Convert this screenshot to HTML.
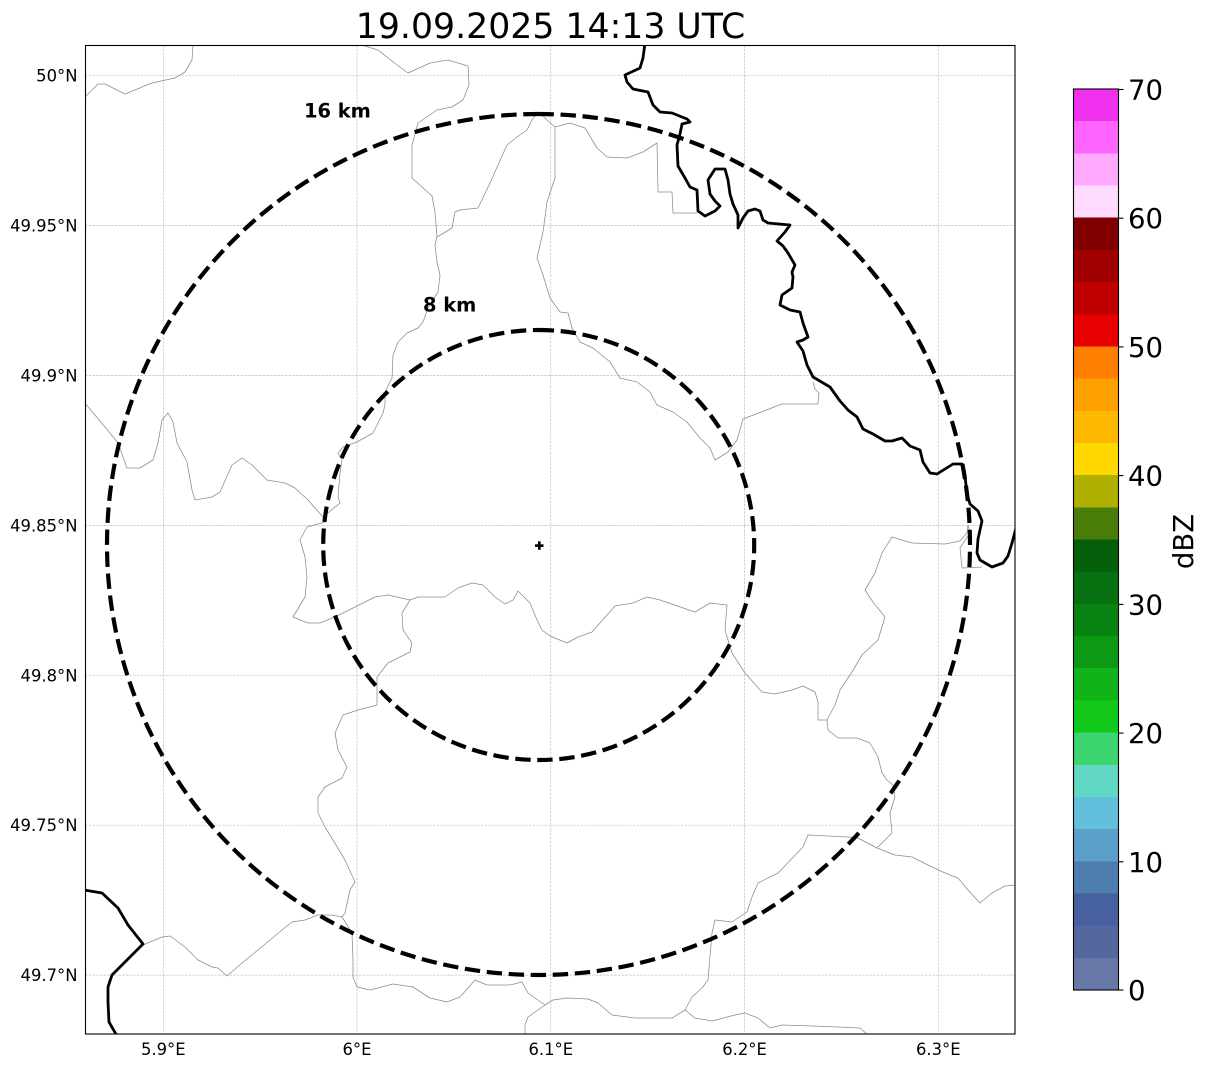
<!DOCTYPE html>
<html>
<head>
<meta charset="utf-8">
<style>
  html,body{margin:0;padding:0;background:#fff;}
  svg{display:block;}
  text{font-family:"DejaVu Sans","Liberation Sans",sans-serif;fill:#000;}
</style>
</head>
<body>
<svg width="1207" height="1069" viewBox="0 0 1207 1069" xmlns="http://www.w3.org/2000/svg">
  <defs>
    <clipPath id="ax"><rect x="85.5" y="45.5" width="929.5" height="988.5"/></clipPath>
  </defs>
  <rect x="0" y="0" width="1207" height="1069" fill="#fff"/>

  <!-- Title -->
  <text x="550.5" y="38" font-size="34.7" text-anchor="middle">19.09.2025 14:13 UTC</text>

  <g clip-path="url(#ax)">
    <!-- grid -->
    <g stroke="#c0c0c0" stroke-width="0.7" stroke-dasharray="2.6 1.1" fill="none">
      <line x1="163.3" y1="45" x2="163.3" y2="1034"/>
      <line x1="357" y1="45" x2="357" y2="1034"/>
      <line x1="550.8" y1="45" x2="550.8" y2="1034"/>
      <line x1="744.5" y1="45" x2="744.5" y2="1034"/>
      <line x1="938.3" y1="45" x2="938.3" y2="1034"/>
      <line x1="85" y1="75.7" x2="1015" y2="75.7"/>
      <line x1="85" y1="225.6" x2="1015" y2="225.6"/>
      <line x1="85" y1="375.5" x2="1015" y2="375.5"/>
      <line x1="85" y1="525.4" x2="1015" y2="525.4"/>
      <line x1="85" y1="675.3" x2="1015" y2="675.3"/>
      <line x1="85" y1="825.2" x2="1015" y2="825.2"/>
      <line x1="85" y1="975.1" x2="1015" y2="975.1"/>
    </g>

    <!-- thin admin borders -->
    <g stroke="#8a8a8a" stroke-width="0.75" fill="none" stroke-linejoin="round">
      <polyline points="85,97 98,84 105,84 125,94 152,83 175,78 185,72 192,60 193,44"/>
      <polyline points="358,44 378,50 397,65 408,73 430,63 448,60 468,66 469,85 463,100 452,107 437,110 418,123 412,145 412,178 432,196 435,212 437,237 435,245 437,262 440,275 438,292 428,308 423,322 418,328 407,333 398,342 393,355 392,378 385,392 385,405 383,413 373,433 357,442 343,447 338,453 342,460 340,473 338,497 340,503 323,517"/>
      <polyline points="437,237 452,228 455,212 460,210 478,208 490,183 507,145 517,137 527,130 533,118 540,113 547,120 555,127 570,123 585,128 597,148 607,157 627,158 643,152 657,143 658,192 672,192 673,213 697,213"/>
      <polyline points="555,127 555,178 547,202 543,232 537,258 543,275 550,298 560,312 568,313 572,328 580,342 593,348 610,362 620,378 637,382 650,392 657,405 673,412 687,422 700,438 710,448 715,460 728,452 737,440 743,419 782,404 818,404 819,393 815,389 813,382"/>
      <polyline points="84,402 105,427 118,443 127,468 140,468 153,460 158,443 162,420 168,413 173,422 177,443 187,462 192,490 195,500 212,497 220,492 232,465 242,458 252,465 267,480 285,483 295,488 308,500 323,517 325,522 307,527 300,540 305,557 307,577 305,597 293,617 308,623 320,623 335,617 355,607 375,597 388,595 410,600 418,597 430,597 445,597 458,588 472,583 483,585 495,597 505,604 513,600 518,591 530,603 537,620 542,630 550,636 567,643 578,637 592,632 607,615 615,606 633,603 647,597 660,600 695,612 710,603 727,605 725,630 732,653 745,673 762,692 775,694 792,690 803,686 815,692 818,702 818,720 827,720 828,730 838,738 857,738 870,743 878,757 882,773 887,780 893,785 895,797 890,813 892,833 877,848"/>
      <polyline points="410,600 402,613 403,630 412,643 410,652 388,663 377,677 377,705 358,710 343,715 335,733 338,750 347,767 342,778 325,787 318,797 318,813 325,827 333,840 345,860 355,882 350,890 345,913 342,917 332,915 318,915 305,920 292,922 282,930 258,950 242,963 227,976 218,968 212,967 198,960 185,947 170,936 162,937 143,945"/>
      <polyline points="342,917 352,933 353,960 353,977 357,987 370,990 393,984 413,987 430,998 447,1002 460,997 475,980 487,985 510,985 522,982 528,993 545,1005 553,1000 567,998 588,999 598,1003 612,1015 635,1018 672,1018 685,1010 692,997 702,988 708,980 712,933 715,920 732,922 747,912 752,897 758,883 778,873 803,847 808,835 848,837 858,838 877,848 895,855 912,857 928,865 945,873 958,878 968,890 980,903 992,893 1005,886 1016,885"/>
      <polyline points="545,1005 528,1017 525,1025 525,1035"/>
      <polyline points="685,1010 695,1018 712,1021 735,1015 745,1013 758,1018 770,1028 782,1025 812,1026 838,1027 860,1028 868,1035"/>
      <polyline points="827,720 835,705 840,690 852,672 862,655 878,640 885,617 873,602 865,590 875,573 882,553 892,537 912,543 945,544 960,541 967,533 968,525 970,533 960,548 962,568 982,567"/>
    </g>

    <!-- thick national borders -->
    <g stroke="#000" stroke-width="2.8" fill="none" stroke-linejoin="round" stroke-linecap="round">
      <polyline points="645,43 643,58 640,68 625,75 627,82 633,89 648,92 653,105 660,112 672,113 687,119 690,122 682,124 680,134 677,145 678,166 685,178 690,187 697,190 698,211 705,216 715,211 720,206 715,201 710,194 708,180 715,169 725,169 728,180 730,194 733,204 738,215 738,228 743,218 748,211 755,209 760,211 763,220 768,223 790,225 785,232 777,241 783,246 788,253 795,265 792,272 793,277 792,288 782,295 780,305 790,310 800,312 803,323 808,337 803,340 797,342 803,351 807,365 813,377 830,387 840,401 848,410 857,417 863,429 873,434 885,441 892,441 902,438 910,446 920,450 923,462 930,473 937,474 953,464 962,464 965,476 967,494 970,504 978,511 982,521 978,539 977,553 980,560 992,567 1003,563 1008,556 1012,543 1016,528"/>
      <polyline points="84,890 102,893 118,908 128,925 143,944 125,962 112,975 108,987 108,1002 109,1022 117,1036"/>
    </g>

    <!-- range rings -->
    <g stroke="#000" stroke-width="4.17" fill="none" stroke-dasharray="15.4 6.67">
      <path d="M538.5,114 A431.5,430.5 0 0 1 538.5,975 A431.5,430.5 0 0 1 538.5,114"/>
      <path d="M538.7,330 A215.5,215 0 0 1 538.7,760 A215.5,215 0 0 1 538.7,330"/>
    </g>

    <!-- radar marker -->
    <rect x="535" y="544.3" width="8.5" height="2.6" fill="#000"/>
    <rect x="538" y="541.3" width="2.6" height="8.5" fill="#000"/>

    <!-- ring labels -->
    <text x="304" y="117.5" font-size="19.4" font-weight="bold">16 km</text>
    <text x="423" y="311.5" font-size="19.4" font-weight="bold">8 km</text>
  </g>

  <!-- axes frame -->
  <rect x="85.5" y="45.5" width="929.5" height="988.5" fill="none" stroke="#000" stroke-width="1.1"/>

  <!-- lat labels -->
  <g font-size="16.4" text-anchor="end">
    <text x="77.5" y="81.5">50°N</text>
    <text x="77.5" y="231.5">49.95°N</text>
    <text x="77.5" y="381.5">49.9°N</text>
    <text x="77.5" y="531.5">49.85°N</text>
    <text x="77.5" y="681.3">49.8°N</text>
    <text x="77.5" y="831.2">49.75°N</text>
    <text x="77.5" y="981.1">49.7°N</text>
  </g>
  <!-- lon labels -->
  <g font-size="16.4" text-anchor="middle">
    <text x="163.3" y="1055">5.9°E</text>
    <text x="357" y="1055">6°E</text>
    <text x="550.8" y="1055">6.1°E</text>
    <text x="744.5" y="1055">6.2°E</text>
    <text x="938.3" y="1055">6.3°E</text>
  </g>

  <!-- colorbar -->
  <g shape-rendering="crispEdges">
    <rect x="1073.5" y="89.0" width="45" height="32.6" fill="#f032f0"/>
    <rect x="1073.5" y="121.2" width="45" height="32.6" fill="#ff66ff"/>
    <rect x="1073.5" y="153.4" width="45" height="32.6" fill="#ffaaff"/>
    <rect x="1073.5" y="185.5" width="45" height="32.6" fill="#ffdcff"/>
    <rect x="1073.5" y="217.7" width="45" height="32.6" fill="#800000"/>
    <rect x="1073.5" y="249.9" width="45" height="32.6" fill="#a00000"/>
    <rect x="1073.5" y="282.1" width="45" height="32.6" fill="#c00000"/>
    <rect x="1073.5" y="314.3" width="45" height="32.6" fill="#e60000"/>
    <rect x="1073.5" y="346.4" width="45" height="32.6" fill="#ff7f00"/>
    <rect x="1073.5" y="378.6" width="45" height="32.6" fill="#ff9f00"/>
    <rect x="1073.5" y="410.8" width="45" height="32.6" fill="#ffb800"/>
    <rect x="1073.5" y="443.0" width="45" height="32.6" fill="#ffd800"/>
    <rect x="1073.5" y="475.1" width="45" height="32.6" fill="#b0b000"/>
    <rect x="1073.5" y="507.3" width="45" height="32.6" fill="#4a7d08"/>
    <rect x="1073.5" y="539.5" width="45" height="32.6" fill="#055e0a"/>
    <rect x="1073.5" y="571.7" width="45" height="32.6" fill="#077010"/>
    <rect x="1073.5" y="603.9" width="45" height="32.6" fill="#098214"/>
    <rect x="1073.5" y="636.0" width="45" height="32.6" fill="#0c9a14"/>
    <rect x="1073.5" y="668.2" width="45" height="32.6" fill="#10b418"/>
    <rect x="1073.5" y="700.4" width="45" height="32.6" fill="#12c81a"/>
    <rect x="1073.5" y="732.6" width="45" height="32.6" fill="#3cd46e"/>
    <rect x="1073.5" y="764.8" width="45" height="32.6" fill="#60d8c4"/>
    <rect x="1073.5" y="796.9" width="45" height="32.6" fill="#62c0dc"/>
    <rect x="1073.5" y="829.1" width="45" height="32.6" fill="#5aa0c8"/>
    <rect x="1073.5" y="861.3" width="45" height="32.6" fill="#4e7db0"/>
    <rect x="1073.5" y="893.5" width="45" height="32.6" fill="#4660a0"/>
    <rect x="1073.5" y="925.6" width="45" height="32.6" fill="#5468a0"/>
    <rect x="1073.5" y="957.8" width="45" height="32.2" fill="#6878a8"/>
  </g>
  <rect x="1073.5" y="89" width="45" height="901" fill="none" stroke="#000" stroke-width="1.1"/>
  <g stroke="#000" stroke-width="1.1">
    <line x1="1118.5" y1="89.5" x2="1123.5" y2="89.5"/>
    <line x1="1118.5" y1="218.2" x2="1123.5" y2="218.2"/>
    <line x1="1118.5" y1="346.9" x2="1123.5" y2="346.9"/>
    <line x1="1118.5" y1="475.6" x2="1123.5" y2="475.6"/>
    <line x1="1118.5" y1="604.4" x2="1123.5" y2="604.4"/>
    <line x1="1118.5" y1="733.1" x2="1123.5" y2="733.1"/>
    <line x1="1118.5" y1="861.8" x2="1123.5" y2="861.8"/>
    <line x1="1118.5" y1="990" x2="1123.5" y2="990"/>
  </g>
  <g font-size="27.5">
    <text x="1128" y="99.5">70</text>
    <text x="1128" y="228.2">60</text>
    <text x="1128" y="356.9">50</text>
    <text x="1128" y="485.6">40</text>
    <text x="1128" y="614.4">30</text>
    <text x="1128" y="743.1">20</text>
    <text x="1128" y="871.8">10</text>
    <text x="1128" y="1000">0</text>
  </g>
  <text x="0" y="0" font-size="27.5" text-anchor="middle" transform="translate(1193,541.5) rotate(-90)">dBZ</text>
</svg>
</body>
</html>
